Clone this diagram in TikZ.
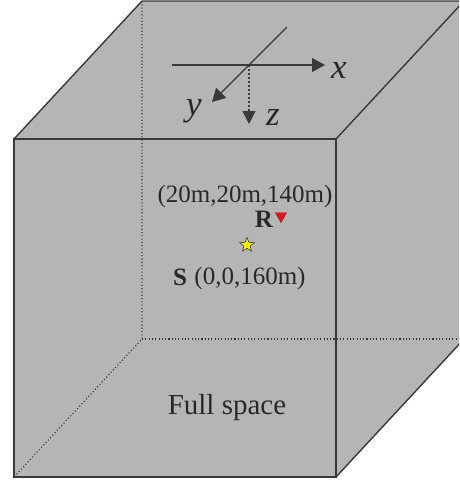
\documentclass[tikz,border=0pt]{standalone}
\usepackage{fontspec}
\setmainfont{Liberation Serif}
\usetikzlibrary{arrows.meta,shapes.geometric}
\definecolor{wand}{HTML}{B5B5B5}
\definecolor{kante}{HTML}{3A3838}
\definecolor{schrift}{HTML}{2C2727}
\definecolor{empfrot}{HTML}{E3141B}
\definecolor{quellgelb}{HTML}{FFF200}
\tikzset{
  flaeche/.style={fill=wand},
  kante/.style={draw=kante,line width=1.4pt,line join=miter},
  verdeckt/.style={draw=kante,line width=1.1pt,dash pattern=on 1.1pt off 2.2pt},
  achse/.style={-{Triangle[length=13pt,width=14pt]},kante,line width=1.2pt},
  achsez/.style={-{Triangle[length=13pt,width=13pt]},kante,line width=1.2pt,dash pattern=on 2pt off 2pt},
  beschr/.style={text=schrift,font=\fontsize{25}{30}\selectfont,inner sep=0pt,anchor=base},
  achsbeschr/.style={text=schrift,font=\fontsize{35}{40}\selectfont\itshape,inner sep=0pt,anchor=base},
  empf/.style={regular polygon,regular polygon sides=3,shape border rotate=180,fill=empfrot,draw=empfrot!70!black,line width=0.4pt,minimum size=13pt,inner sep=0pt},
  quelle/.style={star,star points=5,star point ratio=2.3,fill=quellgelb,draw=kante,line width=0.6pt,minimum size=15pt,inner sep=0pt},
}

\begin{document}
\begin{tikzpicture}[x=1pt,y=-1pt]
  \useasboundingbox (0,0) rectangle (459,480);
  \clip (0,0) rectangle (459,480);
  % Ecken des Quaders
  \coordinate (A) at (14,477);
  \coordinate (B) at (336,477);
  \coordinate (C) at (336,139);
  \coordinate (D) at (14,139);
  \coordinate (E) at (142,339);
  \coordinate (F) at (464,339);
  \coordinate (G) at (464,1);
  \coordinate (H) at (142,1);
  \fill[flaeche] (A)--(B)--(F)--(G)--(H)--(D)--cycle;
  \draw[verdeckt] (H)--(E)--(A);
  \draw[verdeckt] (E)--(F);
  \draw[kante] (A)--(B)--(C)--(D)--cycle;
  \draw[kante] (D)--(H)--(G)--(C);
  \draw[kante] (B)--(F)--(G);
  % Achsen
  \coordinate (O) at (249,65);
  \coordinate (xs) at (172,65);
  \coordinate (xe) at (325,65);
  \coordinate (ys) at (287,27);
  \coordinate (ye) at (212,102);
  \coordinate (ze) at (249,124);
  \draw[achse] (xs)--(xe);
  \draw[achse] (ys)--(ye);
  \draw[achsez] (O)--(ze);
  \node[achsbeschr] (xl) at (339,78) {x};
  \node[achsbeschr] (yl) at (194,115) {y};
  \node[achsbeschr] (zl) at (273,125) {z};
  % Empfaenger und Quelle
  \node[beschr] (rpos) at (245,202) {(20m,20m,140m)};
  \node[beschr,font=\fontsize{25}{30}\selectfont\bfseries] (R) at (264,227) {R};
  \node[empf] (rx) at (281,216) {};
  \node[quelle] (sx) at (247,245) {};
  \node[beschr,font=\fontsize{25}{30}\selectfont\bfseries] (S) at (180,285) {S};
  \node[beschr] (spos) at (250,284) {(0,0,160m)};
  \node[beschr,font=\fontsize{29}{34}\selectfont] (raum) at (227,414) {Full space};
\end{tikzpicture}
\end{document}
